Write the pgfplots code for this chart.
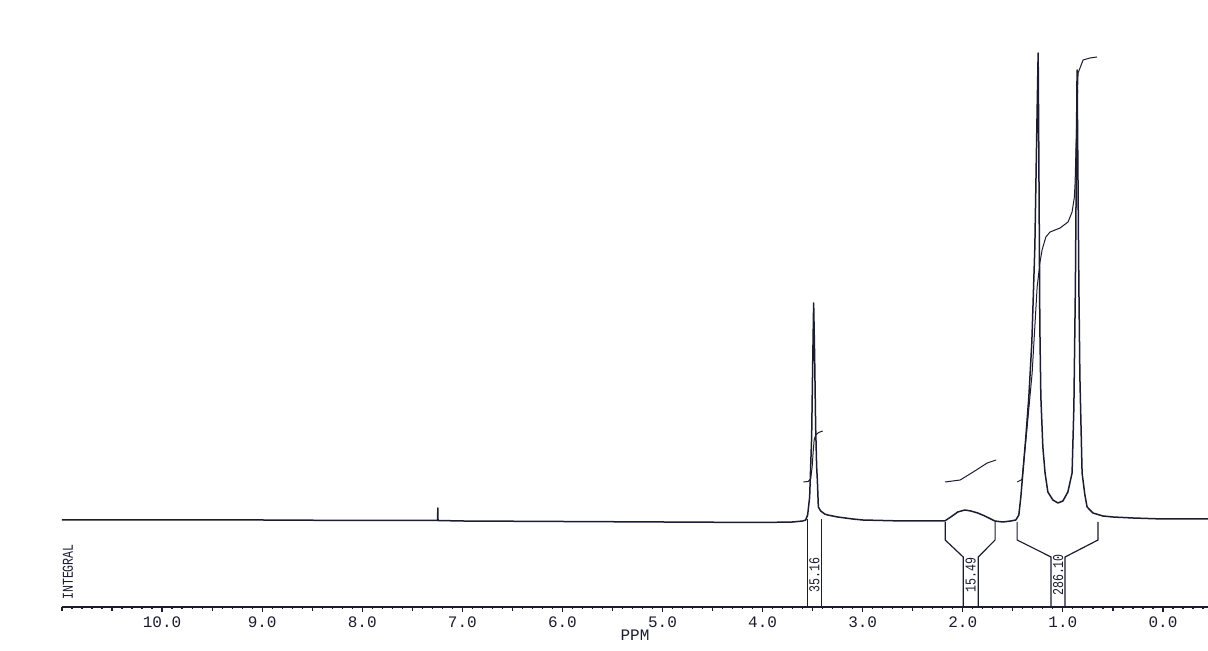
\documentclass[border=0pt]{standalone}
\usepackage{fontspec}
\setmainfont{Liberation Sans}
\setmonofont{Liberation Mono}
\usepackage{graphicx}
\usepackage{pgfplots}
\pgfplotsset{compat=1.18}
\definecolor{ink}{RGB}{28,28,48}
\newcommand{\tallsmall}[1]{\scalebox{1}[1.3]{\ttfamily\fontsize{5.8}{6}\selectfont #1}}
\begin{document}
\begin{tikzpicture}
\path[use as bounding box] (0,0) rectangle (604pt,325.5pt);
\begin{axis}[
  at={(31pt,22pt)}, anchor=south west,
  scale only axis, width=573pt, height=303.5pt,
  xmin=-0.45, xmax=11.0, ymin=0, ymax=607,
  x dir=reverse,
  axis x line*=bottom, axis y line=none,
  axis line style={-, ink, line width=0.7pt},
  xtick={0,1,2,3,4,5,6,7,8,9,10},
  xticklabels={0.0,1.0,2.0,3.0,4.0,5.0,6.0,7.0,8.0,9.0,10.0},
  minor xtick={-0.4,-0.3,-0.2,-0.1,0.1,0.2,0.3,0.4,0.6,0.7,0.8,0.9,1.1,1.2,1.3,1.4,1.6,1.7,1.8,1.9,2.1,2.2,2.3,2.4,2.6,2.7,2.8,2.9,3.1,3.2,3.3,3.4,3.6,3.7,3.8,3.9,4.1,4.2,4.3,4.4,4.6,4.7,4.8,4.9,5.1,5.2,5.3,5.4,5.6,5.7,5.8,5.9,6.1,6.2,6.3,6.4,6.6,6.7,6.8,6.9,7.1,7.2,7.3,7.4,7.6,7.7,7.8,7.9,8.1,8.2,8.3,8.4,8.6,8.7,8.8,8.9,9.1,9.2,9.3,9.4,9.6,9.7,9.8,9.9,10.1,10.2,10.3,10.4,10.6,10.7,10.8,10.9},
  extra x ticks={0.5,1.5,2.5,3.5,4.5,5.5,6.5,7.5,8.5,9.5,10.5,11},
  extra x tick labels={},
  extra x tick style={major tick length=1.8pt},
  tick align=outside,
  major tick length=2.6pt, minor tick length=1.1pt,
  tick style={ink, line width=0.6pt},
  xticklabel style={font=\ttfamily\fontsize{8}{8}\selectfont, text=ink, anchor=center, yshift=-5pt},
  xlabel={PPM},
  xlabel style={font=\ttfamily\fontsize{8}{8}\selectfont, text=ink, at={(axis description cs:0.5,0)}, anchor=center, yshift=-14pt},
  clip=false,
]
% spectrum
\addplot[ink, line width=0.75pt, line join=round] coordinates {
(11.00,87) (10.00,87) (9.00,87) (8.00,86.5) (7.30,86.5)
(7.247,86.5) (7.245,99) (7.243,86.5)
(7.00,86) (6.00,85.5) (5.00,85) (4.00,84.5) (3.70,85) (3.60,86) (3.57,87)
(3.55,92) (3.53,110) (3.51,170) (3.50,240) (3.49,304) (3.48,250) (3.47,180)
(3.46,140) (3.453,127) (3.443,100) (3.42,96) (3.38,93) (3.35,92) (3.25,90)
(3.10,88) (3.00,87) (2.60,86) (2.30,86) (2.18,86) (2.12,90) (2.05,95)
(1.98,97) (1.92,96) (1.85,94) (1.78,91) (1.72,88) (1.68,86) (1.60,85)
(1.52,86) (1.47,87) (1.44,92) (1.42,110) (1.40,134) (1.37,170) (1.34,210)
(1.31,265) (1.28,360) (1.26,480) (1.247,554) (1.24,450) (1.23,280) (1.22,210)
(1.20,160) (1.178,134) (1.15,115) (1.10,107) (1.05,104) (1.00,106) (0.95,115)
(0.908,134) (0.89,200) (0.875,320) (0.865,450) (0.858,537) (0.85,440)
(0.84,320) (0.83,230) (0.808,134) (0.78,112) (0.758,100) (0.70,94) (0.60,91)
(0.50,90) (0.30,89) (0.00,88) (-0.45,88)
};
% integral curves
\addplot[ink, line width=0.5pt] coordinates {
(3.593,125) (3.545,125.5) (3.52,128) (3.505,140) (3.495,155) (3.485,167)
(3.47,172) (3.44,174.5) (3.40,176)
};
\addplot[ink, line width=0.5pt] coordinates {
(2.176,125) (2.026,127) (1.896,135) (1.756,144) (1.667,147)
};
\addplot[ink, line width=0.5pt] coordinates {
(1.457,125) (1.417,127) (1.407,128) (1.357,180) (1.307,234) (1.257,320)
(1.228,345) (1.208,357) (1.17,370) (1.128,375) (1.028,379) (0.948,385)
(0.908,395) (0.885,410) (0.878,424) (0.858,500) (0.848,534) (0.798,547)
(0.728,549) (0.659,550)
};
% integral brackets
\addplot[ink, line width=0.6pt] coordinates {(3.553,88) (3.553,0)};
\addplot[ink, line width=0.6pt] coordinates {(3.413,88) (3.413,0)};
\addplot[ink, line width=0.6pt] coordinates {(2.176,85) (2.176,67) (1.996,50) (1.996,0)};
\addplot[ink, line width=0.6pt] coordinates {(1.677,85) (1.677,67) (1.846,50) (1.846,0)};
\addplot[ink, line width=0.6pt] coordinates {(1.457,85) (1.457,67) (1.118,50) (1.118,0)};
\addplot[ink, line width=0.6pt] coordinates {(0.649,85) (0.649,67) (0.978,50) (0.978,0)};
% labels
\node[rotate=90, text=ink, inner sep=0pt] at (axis cs:3.483,32) {\tallsmall{35.16}};
\node[rotate=90, text=ink, inner sep=0pt] at (axis cs:1.921,32) {\tallsmall{15.49}};
\node[rotate=90, text=ink, inner sep=0pt] at (axis cs:1.048,32) {\tallsmall{286.10}};
\node[rotate=90, text=ink, inner sep=0pt] at (axis cs:10.94,35) {\tallsmall{INTEGRAL}};
\end{axis}
\end{tikzpicture}
\end{document}
